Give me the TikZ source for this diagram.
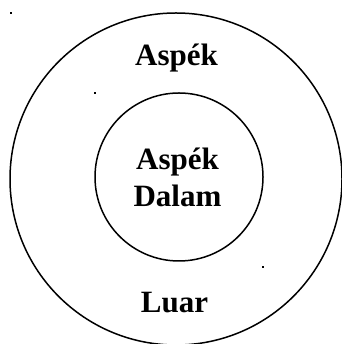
\documentclass[tikz,border=0pt]{standalone}
\usepackage{fontspec}
\setmainfont{Liberation Serif}
\usepackage{tikz}
\definecolor{garisHideung}{HTML}{000000}
\definecolor{latarBodas}{HTML}{FFFFFF}

\begin{document}
\begin{tikzpicture}[x=1pt, y=1pt,
    every node/.style={font=\fontsize{31}{37}\selectfont\bfseries},
    bunderan/.style={draw=garisHideung, circle, line width=1.5pt, inner sep=0pt}]

  \def\LX{176}   % x puseur luar
  \def\LY{165}   % y puseur luar
  \def\DX{179}   % x puseur dalam
  \def\DY{167}   % y puseur dalam

  % ── Wates gambar ──────────────────────────────────────────
  \fill[latarBodas] (0,0) rectangle (341,344);
  \useasboundingbox (0,0) rectangle (341,344);

  % ── Bunderan ──────────────────────────────────────────────
  \node[bunderan, minimum size=332pt] (luar) at (\LX,\LY) {};
  \node[bunderan, minimum size=168pt] (dalam) at (\DX,\DY) {};

  % ── Tulisan ───────────────────────────────────────────────
  \node[anchor=base] (aspekLuar) at (176.5,278) {Aspék};
  \node[anchor=base, align=center] (aspekDalam) at (177.5,137) {Aspék\\Dalam};
  \node[anchor=base] (luarTeks) at (174.5,31) {Luar};

  % ── Titik leutik ──────────────────────────────────────────
  \foreach \x/\y in {11/331, 95/251, 263/77}{
    \fill[garisHideung] (\x-1,\y-1) rectangle (\x+1,\y+1);
  }

\end{tikzpicture}
\end{document}
